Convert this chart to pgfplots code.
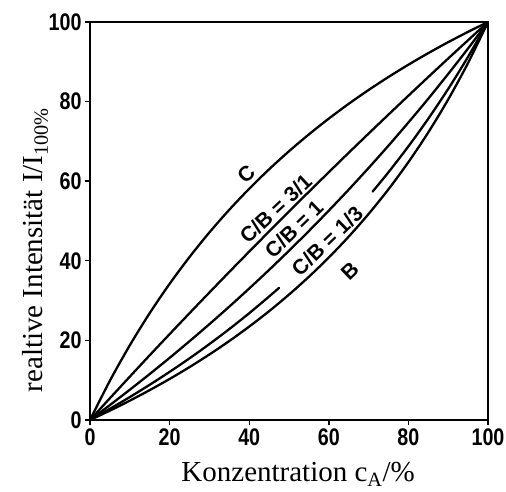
\documentclass[border=0pt]{standalone}
\usepackage{fontspec}
\setmainfont{Liberation Serif}
\newfontfamily\ticksf{Liberation Sans}[FakeStretch=0.82]
\newfontfamily\labsf{Liberation Sans}
\usepackage{pgfplots}
\pgfplotsset{compat=1.18}

\pgfplotstableread{
x y
0 0
5 9.87
10 18.77
15 26.85
20 34.21
25 40.94
30 47.13
35 52.83
40 58.10
45 62.99
50 67.53
55 71.77
60 75.73
65 79.44
70 82.92
75 86.19
80 89.27
85 92.18
90 94.93
95 97.53
100 100
}\curveC

\pgfplotstableread{
x y
0 0
5 5.47
10 10.89
15 16.26
20 21.57
25 26.83
30 32.04
35 37.20
40 42.31
45 47.37
50 52.38
55 57.35
60 62.26
65 67.14
70 71.96
75 76.74
80 81.48
85 86.18
90 90.83
95 95.43
100 100
}\curveThree

\pgfplotstableread{
x y
0 0
5 3.75
10 7.60
15 11.55
20 15.61
25 19.79
30 24.08
35 28.49
40 33.04
45 37.71
50 42.53
55 47.49
60 52.61
65 57.88
70 63.33
75 68.94
80 74.75
85 80.74
90 86.95
95 93.36
100 100
}\curveOne

\pgfplotstableread{
x y
0 0
5 2.81
10 5.76
15 8.85
20 12.09
25 15.49
30 19.08
35 22.85
40 26.83
45 31.03
47.5 33.20
}\curveThirdA

\pgfplotstableread{
x y
71 57.38
75 62.26
80 68.75
85 75.71
90 83.19
95 91.27
100 100
}\curveThirdB

\pgfplotstableread{
x y
0 0
5 2.36
10 4.86
15 7.51
20 10.31
25 13.29
30 16.47
35 19.85
40 23.47
45 27.34
50 31.51
55 35.99
60 40.83
65 46.07
70 51.77
75 57.98
80 64.79
85 72.27
90 80.54
95 89.73
100 100
}\curveB

\begin{document}
\begin{tikzpicture}
\begin{axis}[
  width=398pt, height=398pt, scale only axis,
  xmin=0, xmax=100, ymin=0, ymax=100,
  xtick={0,20,40,60,80,100}, ytick={0,20,40,60,80,100},
  tick align=outside, xtick pos=bottom, ytick pos=left,
  major tick length=5pt,
  axis line style={line width=1.8pt},
  every tick/.style={line width=1.4pt, black},
  /pgf/number format/assume math mode=true,
  tick label style={font=\ticksf\bfseries\fontsize{24}{24}\selectfont},
  xlabel={Konzentration c\textsubscript{A}/\%},
  ylabel={realtive Intensität I/I\textsubscript{100\%}},
  every axis x label/.style={at={([yshift=-62pt]axis description cs:0.523,0)}, anchor=base, font=\fontsize{29}{29}\selectfont},
  every axis y label/.style={at={([xshift=-47pt]axis description cs:0,0.427)}, anchor=base, rotate=90, font=\fontsize{29}{29}\selectfont},
  curve/.style={black, line width=2.3pt, smooth, line cap=round, no markers},
]
\addplot[curve] table[x=x,y=y] {\curveC};
\addplot[curve] table[x=x,y=y] {\curveThree};
\addplot[curve] table[x=x,y=y] {\curveOne};
\addplot[curve] table[x=x,y=y] {\curveThirdA};
\addplot[curve] table[x=x,y=y] {\curveThirdB};
\addplot[curve] table[x=x,y=y] {\curveB};

\begin{scope}[every node/.style={font=\labsf\bfseries\fontsize{21}{21}\selectfont, inner sep=1.5pt}]
\node[rotate=42, anchor=south] at (axis cs:40.8,60.2) {C};
\node[rotate=43, anchor=south] at (axis cs:48.3,51.3) {C/B = 3/1};
\node[rotate=44, anchor=south] at (axis cs:52.9,46.2) {C/B = 1};
\node[rotate=44] at (axis cs:59.6,45.0) {C/B = 1/3};
\node[rotate=44] at (axis cs:65.3,37.4) {B};
\end{scope}
\coordinate (O) at (rel axis cs:0,0);
\end{axis}
\pgfresetboundingbox
\path[use as bounding box] ([shift={(-90pt,-72pt)}]O) rectangle ([shift={(416pt,420pt)}]O);
\end{tikzpicture}
\end{document}
